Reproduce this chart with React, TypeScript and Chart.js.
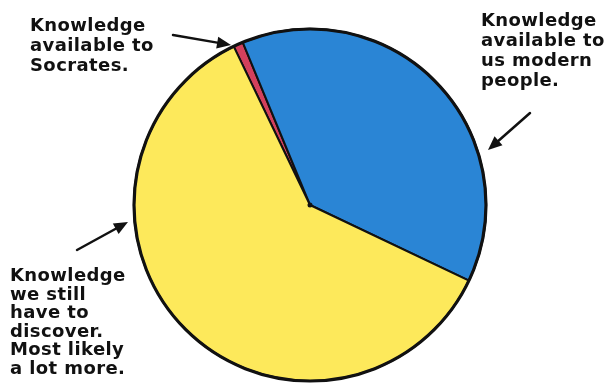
import React, { useEffect, useRef } from "react";
import { Chart, registerables } from "chart.js";

Chart.register(...registerables);

const categories = [
  "Knowledge available to Socrates.",
  "Knowledge available to us modern people.",
  "Knowledge we still have to discover. Most likely a lot more.",
];
const shares = [0.9, 38.3, 60.8];
const colors = ["#d3405c", "#2a85d5", "#fde95b"];
const startAngleDeg = -25.7;

const labelStyle: React.CSSProperties = {
  position: "absolute",
  fontFamily: "'DejaVu Sans', sans-serif",
  fontWeight: "bold",
  fontSize: "18px",
  lineHeight: "20px",
  color: "#111",
  whiteSpace: "nowrap",
  letterSpacing: "0.4px",
};

const arrowPlugin = {
  id: "arrows",
  afterDraw(chart: any) {
    const ctx = chart.ctx;
    const arrows = [
      [173, 35, 231, 45],
      [530, 113, 488, 150],
      [77, 250, 128, 222],
    ];
    ctx.save();
    ctx.strokeStyle = "#111";
    ctx.fillStyle = "#111";
    ctx.lineWidth = 2.5;
    ctx.lineCap = "round";
    for (const [x1, y1, x2, y2] of arrows) {
      const a = Math.atan2(y2 - y1, x2 - x1);
      const hl = 14;
      const bx = x2 - hl * Math.cos(a);
      const by = y2 - hl * Math.sin(a);
      ctx.beginPath();
      ctx.moveTo(x1, y1);
      ctx.lineTo(bx, by);
      ctx.stroke();
      ctx.beginPath();
      ctx.moveTo(x2, y2);
      ctx.lineTo(bx + 6 * Math.cos(a + Math.PI / 2), by + 6 * Math.sin(a + Math.PI / 2));
      ctx.lineTo(bx + 6 * Math.cos(a - Math.PI / 2), by + 6 * Math.sin(a - Math.PI / 2));
      ctx.closePath();
      ctx.fill();
    }
    const meta = chart.getDatasetMeta(0);
    const arc = meta.data[0];
    if (arc) {
      ctx.beginPath();
      ctx.arc(arc.x, arc.y, 2.5, 0, Math.PI * 2);
      ctx.fill();
      // thicker outer outline
      ctx.beginPath();
      ctx.lineWidth = 3.2;
      ctx.arc(arc.x, arc.y, arc.outerRadius, 0, Math.PI * 2);
      ctx.stroke();
    }
    ctx.restore();
  },
};

export default function App() {
  const ref = useRef<HTMLCanvasElement>(null);
  useEffect(() => {
    if (!ref.current) return;
    const chart = new Chart(ref.current, {
      type: "pie",
      data: {
        labels: categories,
        datasets: [
          {
            data: shares,
            backgroundColor: colors,
            borderColor: "#111",
            borderWidth: 2,
            hoverOffset: 0,
            offset: 0,
          },
        ],
      },
      options: {
        animation: false,
        responsive: true,
        maintainAspectRatio: false,
        rotation: startAngleDeg,
        layout: { padding: { top: 28, bottom: 6, left: 7, right: 0 } },
        plugins: {
          legend: { display: false },
          tooltip: { enabled: false },
        },
      },
      plugins: [arrowPlugin],
    });
    return () => chart.destroy();
  }, []);

  return (
    <div
      style={{
        position: "fixed",
        left: 0,
        top: 0,
        width: 613,
        height: 388,
        background: "#fff",
      }}
    >
      <canvas ref={ref} />
      <div style={{ ...labelStyle, left: 30, top: 15 }}>
        Knowledge
        <br />
        available to
        <br />
        Socrates.
      </div>
      <div style={{ ...labelStyle, left: 481, top: 10 }}>
        Knowledge
        <br />
        available to
        <br />
        us modern
        <br />
        people.
      </div>
      <div style={{ ...labelStyle, left: 10, top: 266, lineHeight: "18.5px" }}>
        Knowledge
        <br />
        we still
        <br />
        have to
        <br />
        discover.
        <br />
        Most likely
        <br />
        a lot more.
      </div>
    </div>
  );
}
